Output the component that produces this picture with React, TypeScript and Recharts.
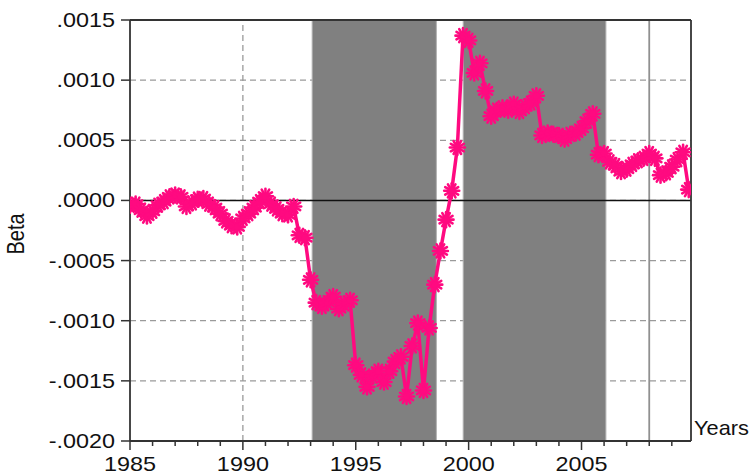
import React from "react";
import {
  ComposedChart,
  Line,
  XAxis,
  YAxis,
  CartesianGrid,
  ReferenceArea,
  ReferenceLine,
} from "recharts";

// Quarterly observations starting 1985Q1
const startYear = 1985;
const betaValues = [
  -0.00004, -0.00003, -0.00008, -0.00013, -0.00009, -0.00004, -0.00001, 0.00003,
  0.000045, 0.00003, -0.00005, -0.00002, 0.00001, 0.000015, -0.00003, -0.00006,
  -0.00011, -0.00017, -0.00021, -0.00022, -0.00015, -0.00011, -0.00006, -0.00001,
  0.000035, -0.00003, -0.00007, -0.00011, -0.00012, -0.00005, -0.00029, -0.00031,
  -0.00066, -0.00085, -0.00088, -0.00085, -0.0008, -0.0009, -0.00086, -0.00083,
  -0.00137, -0.00145, -0.00155, -0.00146, -0.00142, -0.00151, -0.00142, -0.00134,
  -0.0013, -0.00163, -0.00121, -0.00102, -0.00158, -0.00106, -0.0007, -0.00042,
  -0.00016, 0.00008, 0.00044, 0.00137, 0.00133, 0.00106, 0.00114, 0.00091,
  0.0007, 0.00075, 0.00077, 0.00075, 0.0008, 0.00074, 0.00078, 0.00081,
  0.00087, 0.00054, 0.00056, 0.00055, 0.00054, 0.00051, 0.00055, 0.00056,
  0.0006, 0.00066, 0.00072, 0.00038, 0.00039, 0.00032, 0.00029, 0.00024,
  0.00026, 0.0003, 0.00033, 0.00035, 0.00039, 0.00035, 0.00021, 0.00023,
  0.00028, 0.00034, 0.0004, 0.00009,
];

const yearTicks = [
  1985, 1986, 1987, 1988, 1989, 1990, 1991, 1992, 1993, 1994, 1995, 1996, 1997,
  1998, 1999, 2000, 2001, 2002, 2003, 2004, 2005, 2006, 2007, 2008, 2009,
];
const labeledYears = [1985, 1990, 1995, 2000, 2005];
const betaTicks = [-0.002, -0.0015, -0.001, -0.0005, 0, 0.0005, 0.001, 0.0015];
const shadedPeriods = [
  { from: 1993.07, to: 1998.57 },
  { from: 1999.76, to: 2006.08 },
];
const markerYear = 2008;
const gridYear = 1990;
const xDomain = [1985, 2009.85];
const yDomain = [-0.002, 0.0015];

const data = betaValues.map((v, i) => ({ year: startYear + i / 4, beta: v }));

const FONT = "'Liberation Sans', Arial, sans-serif";
const STRETCH = 1.17;
const PINK = "#FF0A80";

function formatBeta(v: number): string {
  const s = Math.abs(v).toFixed(4).replace(/^0/, "");
  return v < 0 ? "-" + s : s;
}

const XTick = (props: any) => {
  const { x, y, payload } = props;
  const major = labeledYears.includes(payload.value);
  return (
    <g>
      <line x1={x} x2={x} y1={y} y2={y + (major ? 9 : 5)} stroke="#333" strokeWidth={1.5} />
      {major && (
        <text
          transform={`translate(${x},${y + 30}) scale(${STRETCH},1)`}
          textAnchor="middle"
          fontFamily={FONT}
          fontSize={20}
          fill="#111"
        >
          {payload.value}
        </text>
      )}
    </g>
  );
};

const YTick = (props: any) => {
  const { x, y, payload } = props;
  return (
    <g>
      <line x1={x - 9} x2={x} y1={y} y2={y} stroke="#333" strokeWidth={1.5} />
      <text
        transform={`translate(${x - 15},${y + 7}) scale(${STRETCH},1)`}
        textAnchor="end"
        fontFamily={FONT}
        fontSize={20}
        fill="#111"
      >
        {formatBeta(payload.value)}
      </text>
    </g>
  );
};

const Asterisk = (props: any) => {
  const { cx, cy, index } = props;
  if (cx == null || cy == null) return <g key={index} />;
  const r = 7.5;
  const angles = [0, 30, 60, 90, 120, 150];
  return (
    <g key={index}>
      {angles.map((a) => {
        const rad = (a * Math.PI) / 180;
        const dx = Math.cos(rad) * r;
        const dy = Math.sin(rad) * r;
        return (
          <line
            key={a}
            x1={cx - dx}
            y1={cy - dy}
            x2={cx + dx}
            y2={cy + dy}
            stroke={PINK}
            strokeWidth={2.6}
            strokeLinecap="round"
          />
        );
      })}
      <circle cx={cx} cy={cy} r={3.2} fill={PINK} />
    </g>
  );
};

export default function App() {
  return (
    <div style={{ position: "absolute", left: 0, top: 0 }}>
      <ComposedChart
        width={752}
        height={475}
        data={data}
        margin={{ top: 20, right: 61, left: 0, bottom: 0 }}
        style={{ background: "#fff" }}
      >
        <CartesianGrid
          stroke="#9a9a9a"
          strokeDasharray="6 4"
          strokeWidth={1.3}
          vertical={false}
        />
        {shadedPeriods.map((p, i) => (
          <ReferenceArea
            key={i}
            x1={p.from}
            x2={p.to}
            fill="#808080"
            fillOpacity={1}
            stroke="#b0b0b0"
            strokeWidth={1}
            ifOverflow="visible"
          />
        ))}
        <ReferenceLine x={gridYear} stroke="#9a9a9a" strokeDasharray="6 4" strokeWidth={1.3} />
        <ReferenceLine x={markerYear} stroke="#909090" strokeWidth={1.8} />
        <ReferenceLine y={0} stroke="#111" strokeWidth={1.5} />
        <ReferenceLine y={yDomain[1]} stroke="#333" strokeWidth={1.8} ifOverflow="visible" />
        <ReferenceLine x={xDomain[1]} stroke="#333" strokeWidth={1.8} ifOverflow="visible" />
        <XAxis
          dataKey="year"
          type="number"
          domain={xDomain}
          ticks={yearTicks}
          interval={0}
          allowDataOverflow
          height={34}
          tickSize={0}
          tickMargin={0}
          tickLine={false}
          axisLine={{ stroke: "#333", strokeWidth: 1.8 }}
          tick={<XTick />}
          label={() => (
            <text
              transform="translate(694,435) scale(1.09,1)"
              textAnchor="start"
              fontFamily={FONT}
              fontSize={20}
              fill="#111"
            >
              Years
            </text>
          )}
        />
        <YAxis
          type="number"
          domain={yDomain}
          ticks={betaTicks}
          interval={0}
          allowDataOverflow
          width={130}
          tickSize={0}
          tickMargin={0}
          tickLine={false}
          axisLine={{ stroke: "#333", strokeWidth: 1.8 }}
          tick={<YTick />}
          label={() => (
            <text
              transform={`translate(24,234) scale(${STRETCH},1) rotate(-90)`}
              textAnchor="middle"
              fontFamily={FONT}
              fontSize={20}
              fill="#111"
            >
              Beta
            </text>
          )}
        />
        <Line
          type="linear"
          dataKey="beta"
          stroke={PINK}
          strokeWidth={3.5}
          dot={(p: any) => <Asterisk key={p.index} {...p} />}
          activeDot={false}
          isAnimationActive={false}
        />
      </ComposedChart>
    </div>
  );
}
